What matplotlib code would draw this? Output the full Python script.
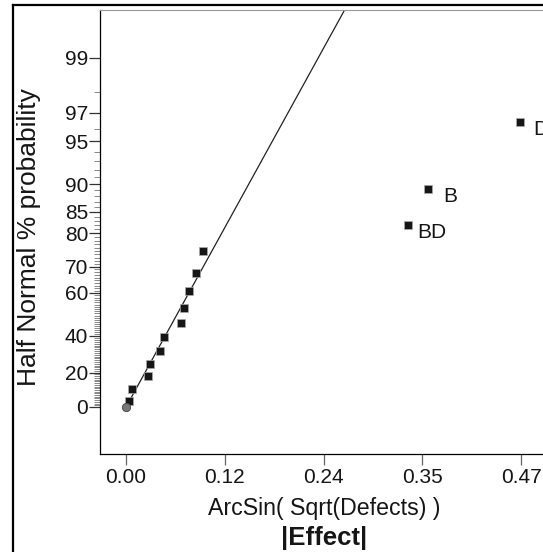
import matplotlib
matplotlib.use("Agg")
import matplotlib.pyplot as plt
from matplotlib.lines import Line2D
from statistics import NormalDist

plt.rcParams['font.family'] = ['Liberation Sans', 'DejaVu Sans']

# |effect| of each term, sorted, with its half-normal % probability
effects = [0.0032, 0.0071, 0.0262, 0.0286, 0.0405, 0.0452, 0.0651,
           0.0687, 0.0746, 0.0833, 0.0913, 0.3354, 0.3592, 0.4682]
half_normal_pct = [3.57, 10.71, 17.86, 25.0, 32.14, 39.29, 46.43,
                   53.57, 60.71, 67.86, 75.0, 82.14, 89.29, 96.43]
term_labels = ["", "", "", "", "", "", "", "", "", "", "", "BD", "B", "D"]

# error estimate point
error_effects = [0.0]
error_pct = [0.0]

# line through the origin (z per unit effect)
line_slope = 11.27
line_effects = [0.0, 0.30]

prob_ticks = [0, 20, 40, 60, 70, 80, 85, 90, 95, 97, 99]
x_ticks = [0.0, 0.1175, 0.235, 0.3525, 0.47]
x_ticklabels = ["0.00", "0.12", "0.24", "0.35", "0.47"]

nd = NormalDist()


def pct_to_z(p):
    # half normal percentile -> standard normal quantile
    return nd.inv_cdf(0.5 + p / 200.0)


W, H = 543, 552
fig = plt.figure(figsize=(W / 100, H / 100), dpi=100)
ax = fig.add_axes([100 / W, 1 - 454 / H, 448 / W, 444 / H])

ax.plot(line_effects, [line_slope * e for e in line_effects],
        color='#222222', lw=0.9, zorder=2)
ax.plot(effects, [pct_to_z(p) for p in half_normal_pct], 's', ms=5.6,
        mfc='#161616', mec='#aaaaaa', mew=0.5, zorder=3)
ax.plot(error_effects, [pct_to_z(p) for p in error_pct], 'o', ms=6,
        mfc='#777777', mec='#444444', mew=0.6, zorder=3)

label_offsets = {"BD": (6.7, -5.8), "B": (11, -6), "D": (9.9, -5.3)}
for e, p, lab in zip(effects, half_normal_pct, term_labels):
    if lab:
        ax.annotate(lab, (e, pct_to_z(p)), xytext=label_offsets[lab],
                    textcoords='offset points', ha='left', va='center',
                    fontsize=15, color='#151515')

ax.set_xlim(-0.031, 0.502)
ax.set_ylim(-0.347, 2.930)

ax.set_yticks([pct_to_z(p) for p in prob_ticks])
ax.set_yticklabels([str(p) for p in prob_ticks])
minor = [p for p in range(1, 99) if p not in prob_ticks]
ax.set_yticks([pct_to_z(p) for p in minor], minor=True)
ax.tick_params(axis='y', which='major', length=8, width=0.9, color='#333333',
               pad=0.5, labelsize=15, labelcolor='#151515')
ax.tick_params(axis='y', which='minor', length=4, width=0.7, color='#888888')

ax.set_xticks(x_ticks)
ax.set_xticklabels(x_ticklabels)
ax.tick_params(axis='x', which='major', length=8, width=0.9, color='#666666',
               pad=2, labelsize=15, labelcolor='#151515')

ax.spines['right'].set_visible(False)
ax.spines['top'].set_color('#999999')
ax.spines['top'].set_linewidth(0.8)
ax.spines['left'].set_linewidth(0.9)
ax.spines['bottom'].set_linewidth(0.9)

fig.text(29 / W, 1 - 237 / H, "Half Normal % probability", rotation=90,
         ha='center', va='center', fontsize=19, color='#151515')
ax.set_xlabel("ArcSin( Sqrt(Defects) )", fontsize=16.7, color='#151515')
ax.xaxis.set_label_coords(0.5, -0.097)
ax.text(0.5, -0.19, "|Effect|", transform=ax.transAxes, ha='center',
        va='center', fontsize=18.5, fontweight='bold', color='#151515')

# outer frame
fig.add_artist(Line2D([13 / W, 13 / W], [0, 1 - 5 / H],
                      transform=fig.transFigure, color='black', lw=1.6))
fig.add_artist(Line2D([13 / W, 1], [1 - 5 / H, 1 - 5 / H],
                      transform=fig.transFigure, color='black', lw=1.6))

fig.savefig('out.png', dpi=100)
